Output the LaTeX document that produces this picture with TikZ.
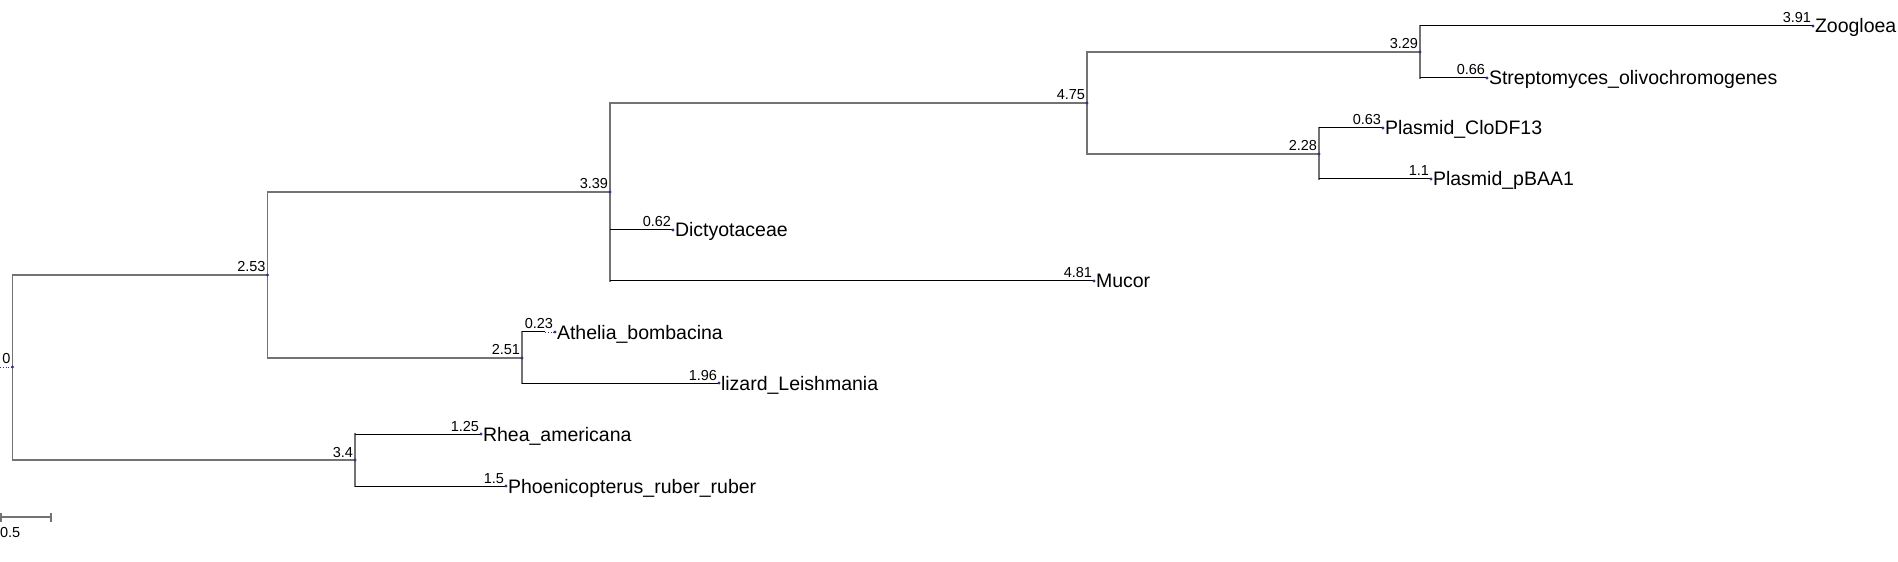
\documentclass[tikz,border=0pt]{standalone}
\usepackage{fontspec}
\setmainfont{Liberation Sans}
\definecolor{ink}{HTML}{000000}
\definecolor{stem}{HTML}{737373}
\definecolor{knot}{HTML}{2E3192}
\tikzset{
  inner/.style={draw=stem,line width=1.6bp,line cap=rect},
  tip/.style={draw=ink,line width=1bp},
  trail/.style={draw=knot,line width=0.8bp,dotted},
  len/.style={anchor=base east,font=\fontsize{14.5bp}{16bp}\selectfont,text=ink},
  taxon/.style={anchor=base west,font=\fontsize{19.5bp}{22bp}\selectfont,text=ink},
  scalelabel/.style={anchor=base west,font=\fontsize{14.5bp}{16bp}\selectfont,text=ink}
}

\begin{document}
\begin{tikzpicture}[x=1bp,y=-1bp,every node/.style={inner sep=0pt,outer sep=0pt}]
\path[use as bounding box] (0,0) rectangle (1898,562);

% internal nodes
\coordinate (n0) at (12.5,367);
\coordinate (n253) at (267.5,275);
\coordinate (n339) at (610,192);
\coordinate (n475) at (1087,103);
\coordinate (n329) at (1420,52);
\coordinate (n228) at (1319,154);
\coordinate (n251) at (522,358);
\coordinate (n34) at (355,460);
% leaves
\coordinate (zoog) at (1813,26);
\coordinate (strep) at (1487,78);
\coordinate (clodf) at (1383,128);
\coordinate (pbaa) at (1431,179);
\coordinate (dicty) at (673,230);
\coordinate (mucor) at (1094,281);
\coordinate (athel-end) at (545,332);
\coordinate (athel) at (555,332);
\coordinate (lizard) at (719,383);
\coordinate (rhea) at (481,434);
\coordinate (phoen) at (506,486);
\coordinate (root-end) at (0,367);

% vertical bars
\draw[inner] (n0 |- n253) -- (n0 |- n34);
\draw[inner] (n253 |- n339) -- (n253 |- n251);
\draw[inner] (n339 |- n475) -- (n339 |- mucor);
\draw[inner] (n475 |- n329) -- (n475 |- n228);
\draw[inner] (n329 |- zoog) -- (n329 |- strep);
\draw[inner] (n228 |- clodf) -- (n228 |- pbaa);
\draw[inner] (n251 |- athel) -- (n251 |- lizard);
\draw[inner] (n34 |- rhea) -- (n34 |- phoen);

% inner branches
\draw[inner] (n0 |- n253) -- (n253);
\draw[inner] (n0 |- n34) -- (n34);
\draw[inner] (n253 |- n339) -- (n339);
\draw[inner] (n253 |- n251) -- (n251);
\draw[inner] (n339 |- n475) -- (n475);
\draw[inner] (n475 |- n329) -- (n329);
\draw[inner] (n475 |- n228) -- (n228);

% tip branches
\draw[tip] (n329 |- zoog) -- (zoog);
\draw[tip] (n329 |- strep) -- (strep);
\draw[tip] (n228 |- clodf) -- (clodf);
\draw[tip] (n228 |- pbaa) -- (pbaa);
\draw[tip] (n339 |- dicty) -- (dicty);
\draw[tip] (n339 |- mucor) -- (mucor);
\draw[tip] (n251 |- athel) -- (athel-end);
\draw[trail] (athel-end) -- (athel);
\draw[tip] (n251 |- lizard) -- (lizard);
\draw[tip] (n34 |- rhea) -- (rhea);
\draw[tip] (n34 |- phoen) -- (phoen);
\draw[trail] (root-end) -- (n0);

\foreach \k in {n0,n253,n339,n475,n329,n228,n251,n34,zoog,strep,clodf,pbaa,dicty,mucor,athel,lizard,rhea,phoen}
  \fill[knot] (\k) circle (1.6bp);

% branch lengths
\node[len] (n0-len) at ([xshift=-2bp,yshift=3bp]n0) {0};
\node[len] (n253-len) at ([xshift=-2bp,yshift=3bp]n253) {2.53};
\node[len] (n339-len) at ([xshift=-2bp,yshift=3bp]n339) {3.39};
\node[len] (n475-len) at ([xshift=-2bp,yshift=3bp]n475) {4.75};
\node[len] (n329-len) at ([xshift=-2bp,yshift=3bp]n329) {3.29};
\node[len] (n228-len) at ([xshift=-2bp,yshift=3bp]n228) {2.28};
\node[len] (n251-len) at ([xshift=-2bp,yshift=3bp]n251) {2.51};
\node[len] (n34-len) at ([xshift=-2bp,yshift=3bp]n34) {3.4};
\node[len] (zoog-len) at ([xshift=-2bp,yshift=3bp]zoog) {3.91};
\node[len] (strep-len) at ([xshift=-2bp,yshift=3bp]strep) {0.66};
\node[len] (clodf-len) at ([xshift=-2bp,yshift=3bp]clodf) {0.63};
\node[len] (pbaa-len) at ([xshift=-2bp,yshift=3bp]pbaa) {1.1};
\node[len] (dicty-len) at ([xshift=-2bp,yshift=3bp]dicty) {0.62};
\node[len] (mucor-len) at ([xshift=-2bp,yshift=3bp]mucor) {4.81};
\node[len] (athel-len) at ([xshift=-2bp,yshift=3bp]athel) {0.23};
\node[len] (lizard-len) at ([xshift=-2bp,yshift=3bp]lizard) {1.96};
\node[len] (rhea-len) at ([xshift=-2bp,yshift=3bp]rhea) {1.25};
\node[len] (phoen-len) at ([xshift=-2bp,yshift=3bp]phoen) {1.5};

% taxa
\node[taxon] (zoog-name) at ([xshift=2bp,yshift=-7bp]zoog) {Zoogloea};
\node[taxon] (strep-name) at ([xshift=2bp,yshift=-7bp]strep) {Streptomyces\_olivochromogenes};
\node[taxon] (clodf-name) at ([xshift=2bp,yshift=-7bp]clodf) {Plasmid\_CloDF13};
\node[taxon] (pbaa-name) at ([xshift=2bp,yshift=-7bp]pbaa) {Plasmid\_pBAA1};
\node[taxon] (dicty-name) at ([xshift=2bp,yshift=-7bp]dicty) {Dictyotaceae};
\node[taxon] (mucor-name) at ([xshift=2bp,yshift=-7bp]mucor) {Mucor};
\node[taxon] (athel-name) at ([xshift=2bp,yshift=-7bp]athel) {Athelia\_bombacina};
\node[taxon] (lizard-name) at ([xshift=2bp,yshift=-7bp]lizard) {lizard\_Leishmania};
\node[taxon] (rhea-name) at ([xshift=2bp,yshift=-7bp]rhea) {Rhea\_americana};
\node[taxon] (phoen-name) at ([xshift=2bp,yshift=-7bp]phoen) {Phoenicopterus\_ruber\_ruber};

% scale bar
\coordinate (bar-a) at (1,517);
\coordinate (bar-b) at (51,517);
\draw[inner,line cap=butt] (bar-a) -- (bar-b);
\draw[inner,line cap=butt] ([yshift=4.5bp]bar-a) -- ([yshift=-4.5bp]bar-a);
\draw[inner,line cap=butt] ([yshift=4.5bp]bar-b) -- ([yshift=-4.5bp]bar-b);
\node[scalelabel] (bar-label) at (0,537) {0.5};
\end{tikzpicture}
\end{document}
